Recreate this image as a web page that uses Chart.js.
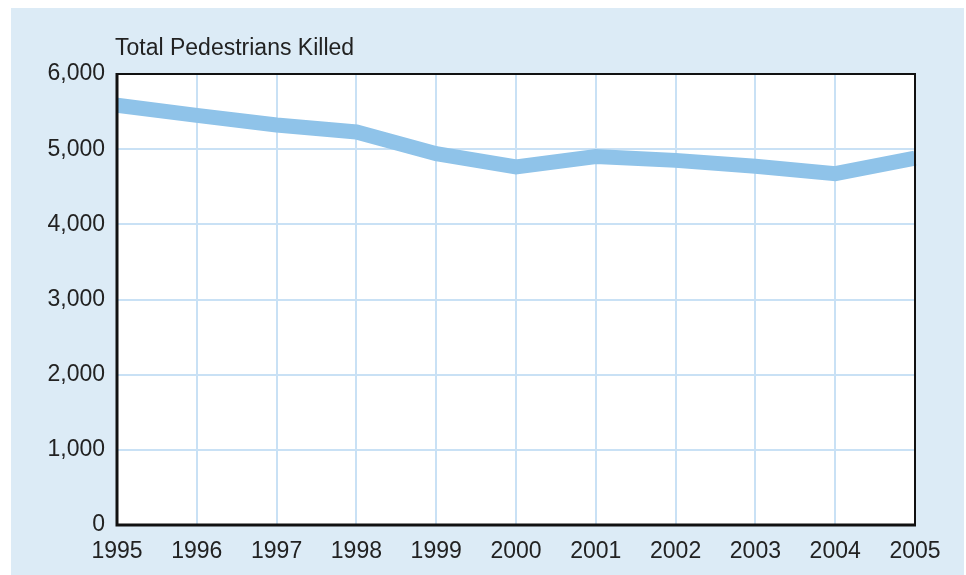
<!DOCTYPE html>
<html>
<head>
<meta charset="utf-8">
<script src="https://cdn.jsdelivr.net/npm/chart.js@4/dist/chart.umd.min.js"></script>
<style>
    html, body { margin: 0; padding: 0; background: #ffffff; }
    #wrap { width: 966px; height: 575px; position: relative; }
</style>
</head>
<body>
<div id="wrap"><canvas id="pedChart" width="966" height="575"></canvas></div>
<script>
// Data
const years = ['1995', '1996', '1997', '1998', '1999', '2000', '2001', '2002', '2003', '2004', '2005'];
const pedestriansKilled = [5584, 5449, 5321, 5228, 4939, 4763, 4901, 4851, 4774, 4675, 4881];
const yTicks = [0, 1000, 2000, 3000, 4000, 5000, 6000];
const chartTitle = 'Total Pedestrians Killed';

const fontFamily = '"Liberation Sans", Arial, Helvetica, sans-serif';

// Light blue panel behind the chart, plus the title text
const panelPlugin = {
    id: 'panel',
    beforeDraw(chart) {
        const ctx = chart.ctx;
        ctx.save();
        ctx.fillStyle = '#dcebf6';
        ctx.fillRect(11, 8, 953, 567);
        // white plot area
        const a = chart.chartArea;
        ctx.fillStyle = '#ffffff';
        ctx.fillRect(a.left, a.top, a.right - a.left, a.bottom - a.top);
        ctx.restore();
    },
    afterDraw(chart) {
        const ctx = chart.ctx;
        const a = chart.chartArea;
        ctx.save();
        // frame around the plot
        ctx.strokeStyle = '#111111';
        ctx.lineWidth = 2;
        ctx.strokeRect(a.left, a.top, a.right - a.left, a.bottom - a.top);
        ctx.lineWidth = 3;
        ctx.beginPath();
        ctx.moveTo(a.left, a.top - 1);
        ctx.lineTo(a.left, a.bottom);
        ctx.lineTo(a.right + 1, a.bottom);
        ctx.stroke();
        // title
        ctx.fillStyle = '#222222';
        ctx.font = '23px ' + fontFamily;
        ctx.textAlign = 'left';
        ctx.textBaseline = 'alphabetic';
        ctx.fillText(chartTitle, 115, 55);
        ctx.restore();
    }
};

new Chart(document.getElementById('pedChart'), {
    type: 'line',
    data: {
        labels: years,
        datasets: [{
            label: chartTitle,
            data: pedestriansKilled,
            borderColor: '#8fc3e9',
            borderWidth: 15,
            pointRadius: 0,
            tension: 0,
            fill: false
        }]
    },
    options: {
        responsive: false,
        animation: false,
        layout: {
            padding: { left: 0, right: 51, top: 74, bottom: 0 }
        },
        scales: {
            x: {
                offset: false,
                grid: {
                    color: '#c9e1f5',
                    lineWidth: 2,
                    drawTicks: false
                },
                border: { display: false },
                ticks: {
                    color: '#222222',
                    font: { family: fontFamily, size: 23 },
                    padding: 13,
                    maxRotation: 0,
                    autoSkip: false
                },
                afterFit(scale) { scale.height = 50; }
            },
            y: {
                min: 0,
                max: 6000,
                afterBuildTicks(scale) {
                    scale.ticks = yTicks.map(v => ({ value: v }));
                },
                grid: {
                    color: '#c9e1f5',
                    lineWidth: 2,
                    drawTicks: false
                },
                border: { display: false },
                ticks: {
                    color: '#222222',
                    font: { family: fontFamily, size: 23 },
                    padding: 12,
                    callback: function(value) {
                        return value.toLocaleString('en-US');
                    }
                },
                afterFit(scale) { scale.width = 117; }
            }
        },
        plugins: {
            legend: { display: false },
            tooltip: { enabled: false },
            title: { display: false }
        }
    },
    plugins: [panelPlugin]
});
</script>
</body>
</html>
